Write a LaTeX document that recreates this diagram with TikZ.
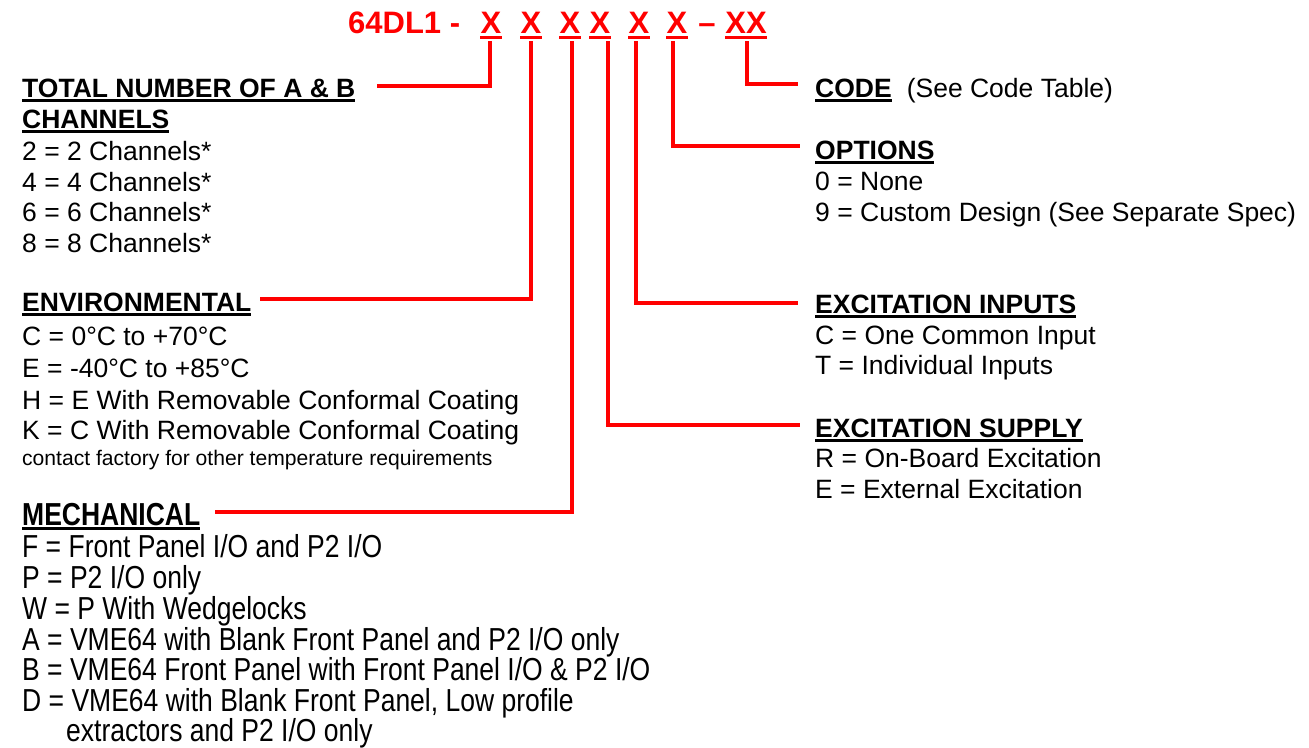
\documentclass[tikz,border=0pt]{standalone}
\usepackage{fontspec}
\setmainfont{Liberation Sans}
\usepackage{graphicx}
\usetikzlibrary{calc}
\definecolor{pnred}{RGB}{255,0,0}
\newsavebox\hulbox
\newcommand\hul[1]{\sbox\hulbox{#1}\rlap{\rule[-4.5pt]{\wd\hulbox}{2.6pt}}\usebox\hulbox}
\newcommand\mst[1]{\scalebox{1}[1.2]{#1}}
\begin{document}
\begin{tikzpicture}[x=1pt,y=-1pt,
  txt/.style={anchor=base west, inner sep=0pt, font=\fontsize{26.5}{30}\selectfont},
  small/.style={anchor=base west, inner sep=0pt, font=\fontsize{21.1}{24}\selectfont},
  hd/.style={anchor=base west, inner sep=0pt, font=\fontsize{26.5}{30}\selectfont\bfseries},
  ttl/.style={inner sep=0pt, text=pnred, font=\fontsize{31}{36}\selectfont\bfseries},
  ulx/.style={draw=pnred, line width=3.3pt},
  conn/.style={draw=pnred, line width=3.6pt},
]
\useasboundingbox (0,0) rectangle (1309,747);

% ---- part number ----
\node[ttl, anchor=base west] (pn) at (348,33) {64DL1 -};
\node[ttl, anchor=base] (x1) at (491,33) {X};
\node[ttl, anchor=base] (x2) at (531,33) {X};
\node[ttl, anchor=base] (x3) at (570,33) {X};
\node[ttl, anchor=base] (x4) at (600,33) {X};
\node[ttl, anchor=base] (x5) at (639,33) {X};
\node[ttl, anchor=base] (x6) at (677,33) {X};
\node[ttl, anchor=base] (dash) at (707,33) {–};
\node[ttl, anchor=base] (xx) at (746,33) {XX};
\foreach \n in {x1,x2,x3,x4,x5,x6,xx}
  \draw[ulx] ([yshift=-4.5pt]\n.base west) -- ([yshift=-4.5pt]\n.base east);

% ---- left column ----
\node[hd] (tot) at (22,97) {\hul{TOTAL NUMBER OF A \& B}};
\node[hd] (totb) at (22,128) {\hul{CHANNELS}};
\node[txt] (c2) at (22,160) {2 = 2 Channels*};
\node[txt] (c4) at (22,191) {4 = 4 Channels*};
\node[txt] (c6) at (22,221) {6 = 6 Channels*};
\node[txt] (c8) at (22,252) {8 = 8 Channels*};

\node[hd] (env) at (22,311) {\hul{ENVIRONMENTAL}};
\node[txt] (envc) at (22,345) {C = 0°C to +70°C};
\node[txt] (enve) at (22,377) {E = -40°C to +85°C};
\node[txt] (envh) at (22,409) {H = E With Removable Conformal Coating};
\node[txt] (envk) at (22,439) {K = C With Removable Conformal Coating};
\node[small] (envn) at (22,465) {contact factory for other temperature requirements};

\node[hd] (mech) at (22,525) {\hul{\mst{MECHANICAL}}};
\node[txt] (mf) at (22,557) {\mst{F = Front Panel I/O and P2 I/O}};
\node[txt] (mp) at (22,588) {\mst{P = P2 I/O only}};
\node[txt] (mw) at (22,619) {\mst{W = P With Wedgelocks}};
\node[txt] (ma) at (22,650) {\mst{A = VME64 with Blank Front Panel and P2 I/O only}};
\node[txt] (mb) at (22,680) {\mst{B = VME64 Front Panel with Front Panel I/O \& P2 I/O}};
\node[txt] (md) at (22,711) {\mst{D = VME64 with Blank Front Panel, Low profile}};
\node[txt] (md2) at (66,741) {\mst{extractors and P2 I/O only}};

% ---- right column ----
\node[hd] (code) at (815,97) {\hul{CODE}\hspace{15pt}\mdseries(See Code Table)};
\node[hd] (opt) at (815,159) {\hul{OPTIONS}};
\node[txt] (opt0) at (815,190) {0 = None};
\node[txt] (opt9) at (815,221) {9 = Custom Design (See Separate Spec)};
\node[hd] (exi) at (815,313) {\hul{EXCITATION INPUTS}};
\node[txt] (exic) at (815,344) {C = One Common Input};
\node[txt] (exit) at (815,374) {T = Individual Inputs};
\node[hd] (exs) at (815,437) {\hul{EXCITATION SUPPLY}};
\node[txt] (exsr) at (815,467) {R = On-Board Excitation};
\node[txt] (exse) at (815,498) {E = External Excitation};

% ---- connector end points ----
\coordinate (t1) at (490,41);
\coordinate (t2) at (531,41);
\coordinate (t3) at (572,41);
\coordinate (t4) at (608,41);
\coordinate (t5) at (636,41);
\coordinate (t6) at (673,41);
\coordinate (t7) at (747,41);
\coordinate (e1) at (377,86);
\coordinate (e2) at (260,299);
\coordinate (e3) at (215,512);
\coordinate (e4) at (800,425);
\coordinate (e5) at (798,303);
\coordinate (e6) at (800,146);
\coordinate (e7) at (798,84);

\foreach \i in {1,...,7}
  \draw[conn] (t\i) |- (e\i);
\end{tikzpicture}
\end{document}
